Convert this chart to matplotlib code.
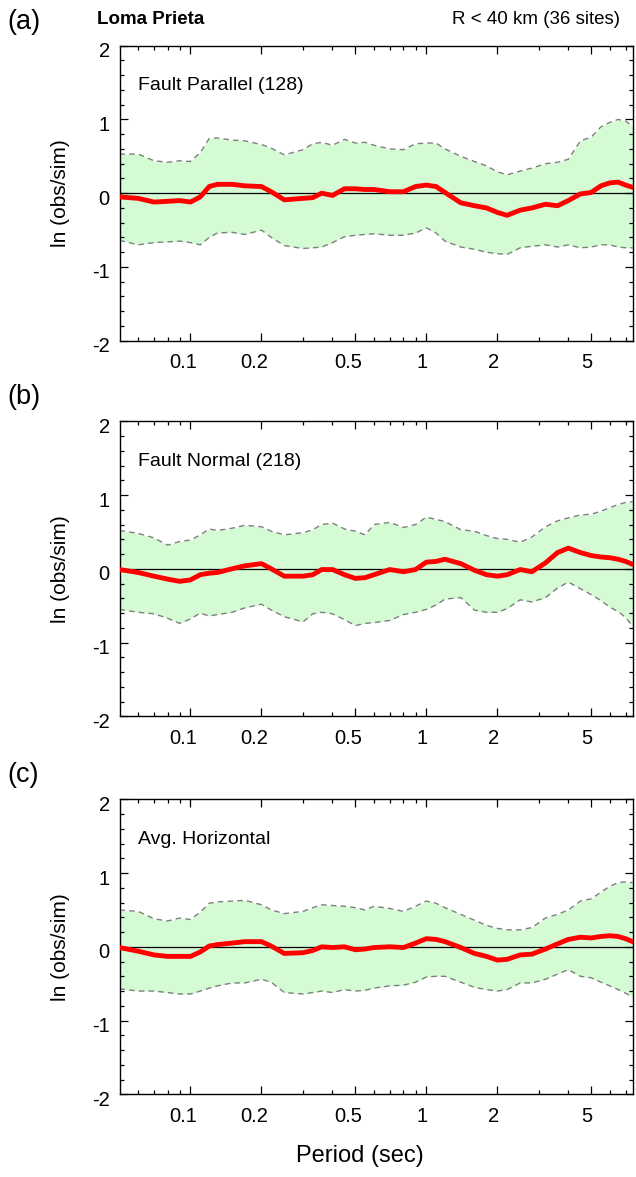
import matplotlib
matplotlib.use('Agg')
import matplotlib.pyplot as plt
from matplotlib.ticker import FixedLocator, FixedFormatter, NullFormatter
from matplotlib.transforms import ScaledTranslation

plt.rcParams['font.family'] = ['Liberation Sans', 'DejaVu Sans']

period = [0.05, 0.06, 0.07, 0.08, 0.09, 0.1, 0.11, 0.12, 0.13, 0.15, 0.17, 0.2,
          0.22, 0.25, 0.3, 0.33, 0.36, 0.4, 0.45, 0.5, 0.55, 0.6, 0.7, 0.8, 0.9,
          1.0, 1.1, 1.2, 1.4, 1.6, 1.8, 2.0, 2.2, 2.5, 2.8, 3.2, 3.6, 4.0, 4.5,
          5.0, 5.5, 6.0, 6.5, 7.0, 7.5]

# (a) Fault Parallel
fp_mean = [-0.05, -0.07, -0.12, -0.11, -0.10, -0.12, -0.05, 0.09, 0.12, 0.12, 0.10, 0.09,
           0.02, -0.09, -0.07, -0.06, 0.00, -0.03, 0.06, 0.06, 0.05, 0.05, 0.02, 0.02, 0.09,
           0.11, 0.09, 0.01, -0.13, -0.17, -0.20, -0.26, -0.30, -0.23, -0.20, -0.15, -0.17, -0.10, -0.01,
           0.01, 0.10, 0.14, 0.15, 0.11, 0.08]
fp_upper = [0.53, 0.53, 0.44, 0.42, 0.44, 0.43, 0.55, 0.74, 0.75, 0.72, 0.71, 0.66,
            0.61, 0.52, 0.59, 0.67, 0.69, 0.65, 0.73, 0.68, 0.69, 0.65, 0.60, 0.59, 0.67,
            0.68, 0.68, 0.60, 0.50, 0.43, 0.37, 0.29, 0.25, 0.30, 0.34, 0.40, 0.42, 0.46, 0.71,
            0.76, 0.90, 0.96, 1.00, 0.98, 0.90]
fp_lower = [-0.64, -0.70, -0.67, -0.66, -0.65, -0.67, -0.70, -0.60, -0.54, -0.53, -0.56, -0.50,
            -0.60, -0.71, -0.75, -0.74, -0.73, -0.67, -0.59, -0.57, -0.56, -0.55, -0.57, -0.57, -0.54,
            -0.47, -0.54, -0.65, -0.73, -0.76, -0.80, -0.82, -0.83, -0.74, -0.72, -0.70, -0.73, -0.70, -0.74,
            -0.73, -0.70, -0.70, -0.73, -0.74, -0.74]

# (b) Fault Normal
fn_mean = [-0.01, -0.05, -0.10, -0.14, -0.17, -0.15, -0.08, -0.06, -0.05, 0.00, 0.04, 0.07,
           0.00, -0.10, -0.10, -0.08, -0.01, -0.01, -0.08, -0.13, -0.12, -0.08, -0.01, -0.04, -0.01,
           0.09, 0.10, 0.13, 0.07, -0.02, -0.08, -0.10, -0.08, -0.01, -0.04, 0.08, 0.22, 0.28, 0.22,
           0.18, 0.16, 0.15, 0.13, 0.10, 0.06]
fn_upper = [0.52, 0.48, 0.42, 0.32, 0.37, 0.39, 0.46, 0.54, 0.52, 0.55, 0.59, 0.57,
            0.51, 0.46, 0.49, 0.53, 0.60, 0.62, 0.54, 0.51, 0.46, 0.60, 0.63, 0.56, 0.60,
            0.70, 0.67, 0.64, 0.53, 0.51, 0.45, 0.41, 0.40, 0.36, 0.43, 0.57, 0.65, 0.69, 0.73,
            0.74, 0.78, 0.83, 0.87, 0.90, 0.91]
fn_lower = [-0.55, -0.59, -0.61, -0.67, -0.74, -0.68, -0.60, -0.64, -0.62, -0.59, -0.53, -0.48,
            -0.56, -0.65, -0.72, -0.61, -0.59, -0.61, -0.69, -0.77, -0.74, -0.73, -0.70, -0.62, -0.59,
            -0.55, -0.49, -0.41, -0.39, -0.56, -0.59, -0.59, -0.54, -0.42, -0.45, -0.39, -0.26, -0.18, -0.27,
            -0.35, -0.43, -0.52, -0.58, -0.66, -0.78]

# (c) Avg. Horizontal
ah_mean = [-0.01, -0.06, -0.11, -0.13, -0.13, -0.13, -0.07, 0.01, 0.03, 0.05, 0.07, 0.07,
           0.01, -0.09, -0.08, -0.05, 0.00, -0.01, 0.00, -0.04, -0.03, -0.01, 0.00, -0.01, 0.05,
           0.11, 0.10, 0.07, -0.01, -0.09, -0.13, -0.18, -0.17, -0.11, -0.10, -0.03, 0.04, 0.10, 0.13,
           0.12, 0.14, 0.15, 0.14, 0.11, 0.07]
ah_upper = [0.50, 0.48, 0.38, 0.35, 0.39, 0.37, 0.47, 0.59, 0.61, 0.62, 0.63, 0.57,
            0.50, 0.45, 0.48, 0.53, 0.57, 0.56, 0.55, 0.53, 0.50, 0.55, 0.52, 0.48, 0.55,
            0.62, 0.59, 0.53, 0.44, 0.36, 0.29, 0.25, 0.23, 0.23, 0.26, 0.39, 0.44, 0.50, 0.62,
            0.65, 0.74, 0.82, 0.87, 0.88, 0.87]
ah_lower = [-0.57, -0.60, -0.60, -0.62, -0.64, -0.64, -0.60, -0.56, -0.53, -0.49, -0.49, -0.44,
            -0.48, -0.62, -0.64, -0.62, -0.60, -0.62, -0.58, -0.60, -0.59, -0.56, -0.53, -0.52, -0.48,
            -0.41, -0.40, -0.40, -0.48, -0.55, -0.58, -0.60, -0.58, -0.49, -0.49, -0.44, -0.37, -0.31, -0.40,
            -0.42, -0.48, -0.53, -0.58, -0.63, -0.68]

x_major = [0.1, 0.2, 0.5, 1, 2, 5]
x_major_labels = ['0.1', '0.2', '0.5', '1', '2', '5']
x_minor = [0.06, 0.07, 0.08, 0.09, 0.3, 0.4, 0.6, 0.7, 0.8, 0.9, 3, 4, 6, 7]
y_major = [-2, -1, 0, 1, 2]
y_major_labels = ['-2', '-1', '0', '1', '2']
y_minor = [-1.8, -1.6, -1.4, -1.2, -0.8, -0.6, -0.4, -0.2, 0.2, 0.4, 0.6, 0.8,
           1.2, 1.4, 1.6, 1.8]

panels = [
    ('(a)', 'Fault Parallel (128)', fp_mean, fp_upper, fp_lower),
    ('(b)', 'Fault Normal (218)', fn_mean, fn_upper, fn_lower),
    ('(c)', 'Avg. Horizontal', ah_mean, ah_upper, ah_lower),
]

W, H = 636, 1177
fig = plt.figure(figsize=(W / 100, H / 100), dpi=100)

left_px, right_px = 119.5, 632.7
tops = [45.7, 421.3, 799.3]
hpx = 295.0

for (plab, title, mean, up, lo), top in zip(panels, tops):
    ax = fig.add_axes([left_px / W, 1 - (top + hpx) / H, (right_px - left_px) / W, hpx / H])
    ax.fill_between(period, lo, up, color='#d4fbd4', lw=0, zorder=1)
    ax.plot(period, up, color='#7f7f7f', lw=1.0, ls=(0, (4, 3)), zorder=2)
    ax.plot(period, lo, color='#7f7f7f', lw=1.0, ls=(0, (4, 3)), zorder=2)
    ax.axhline(0, color='black', lw=0.9, zorder=3)
    ax.plot(period, mean, color='#ff0000', lw=3.5, solid_joinstyle='round', zorder=4)
    ax.set_xscale('log')
    ax.set_xlim(0.05, 7.5)
    ax.set_ylim(-2, 2)
    ax.xaxis.set_major_locator(FixedLocator(x_major))
    ax.xaxis.set_major_formatter(FixedFormatter(x_major_labels))
    ax.xaxis.set_minor_locator(FixedLocator(x_minor))
    ax.xaxis.set_minor_formatter(NullFormatter())
    ax.yaxis.set_major_locator(FixedLocator(y_major))
    ax.yaxis.set_major_formatter(FixedFormatter(y_major_labels))
    ax.yaxis.set_minor_locator(FixedLocator(y_minor))
    ax.tick_params(which='both', direction='in', top=True, right=True, labelsize=14.5, width=0.9)
    ax.tick_params(which='major', length=5.5)
    ax.tick_params(which='minor', length=3)
    ax.tick_params(axis='x', which='major', pad=9)
    ax.tick_params(axis='y', which='major', pad=7)
    for s in ax.spines.values():
        s.set_linewidth(1.0)
    # small label offsets as in the reference
    for tk, lab in zip(ax.xaxis.get_major_ticks(len(x_major)), x_major_labels):
        dx = -7 if lab.startswith('0.') else -4
        tk.label1.set_transform(tk.label1.get_transform() +
                                ScaledTranslation(dx / 100, 0, fig.dpi_scale_trans))
    for tk in ax.yaxis.get_major_ticks(len(y_major)):
        tk.label1.set_transform(tk.label1.get_transform() +
                                ScaledTranslation(0, -4 / 100, fig.dpi_scale_trans))
    ax.set_ylabel('ln (obs/sim)', fontsize=15)
    ax.yaxis.set_label_coords(-0.097, 0.5)
    ax.text(0.036, 0.864, title, transform=ax.transAxes, fontsize=14,
            ha='left', va='center')
    fig.text(7 / W, 1 - (top - 24) / H, plab, fontsize=19.5, ha='left', va='center')
    if plab == '(a)':
        fig.text(97 / W, 1 - (top - 26) / H, 'Loma Prieta', fontsize=13.5,
                 fontweight='bold', ha='left', va='center')
        fig.text(620 / W, 1 - (top - 26) / H, 'R < 40 km (36 sites)', fontsize=13.5,
                 ha='right', va='center')
    if plab == '(c)':
        ax.set_xlabel('Period (sec)', fontsize=17)
        ax.xaxis.set_label_coords(0.469, -0.21)
        ax.xaxis.label.set_va('center')

fig.savefig('out.png', dpi=100)
